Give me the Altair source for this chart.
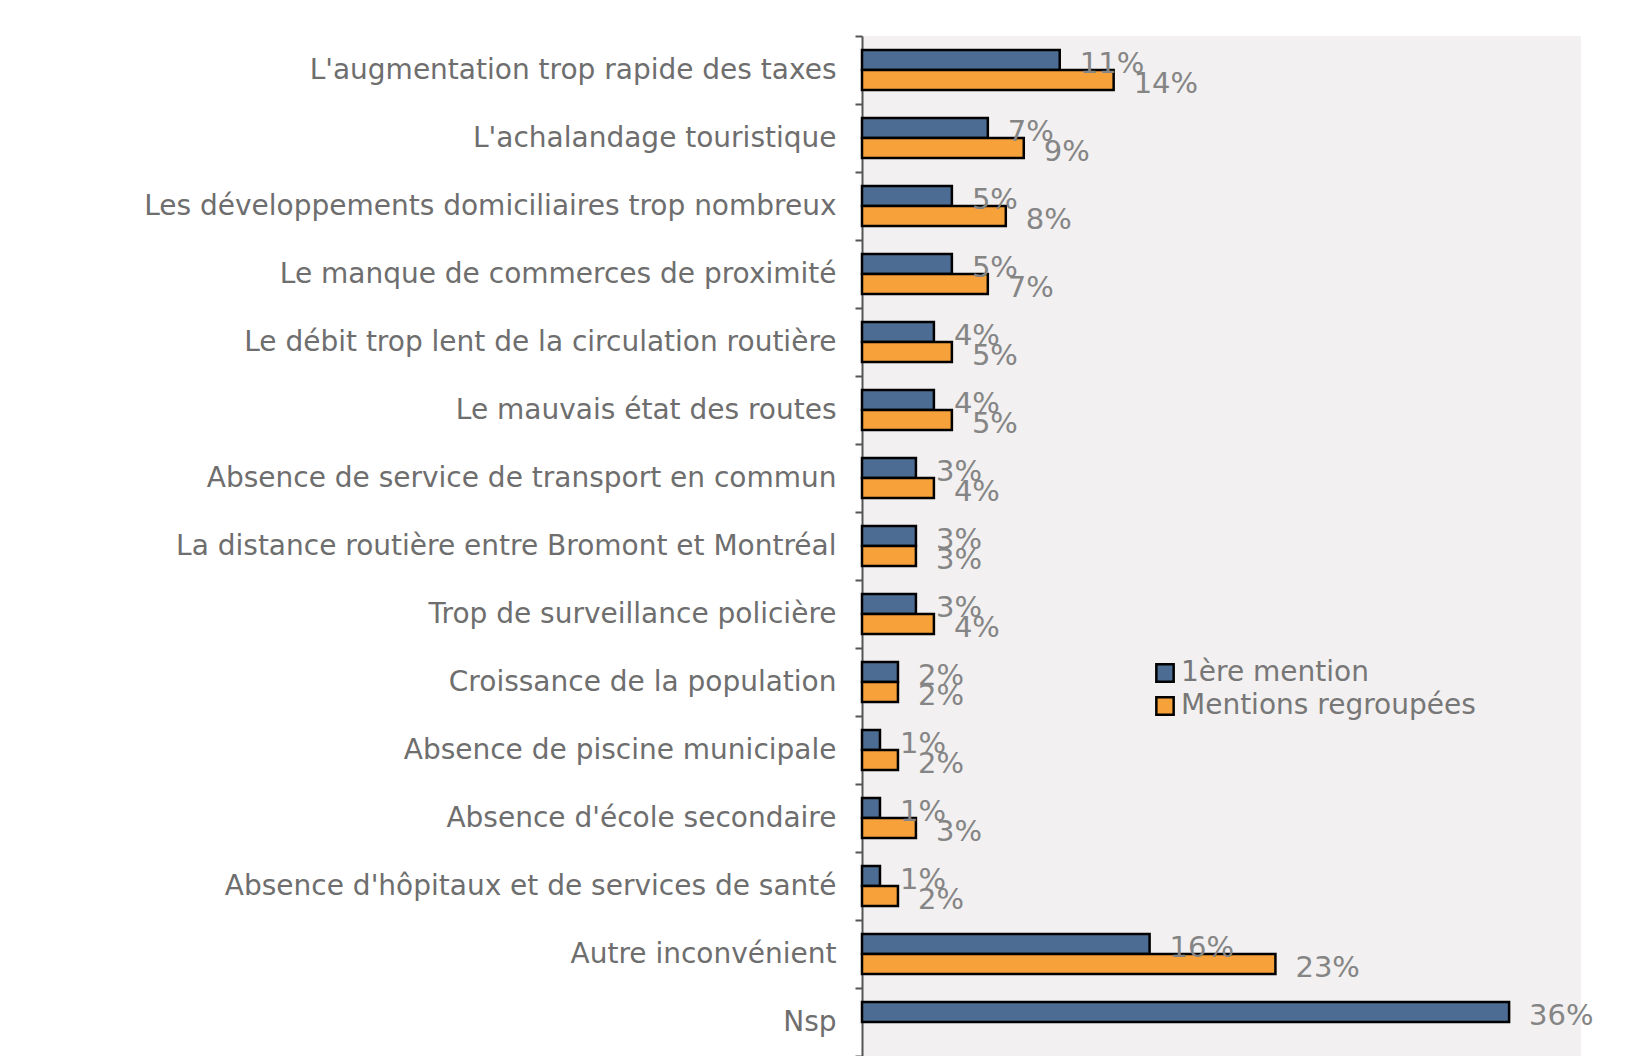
import altair as alt
import pandas as pd

categories = [
    "L'augmentation trop rapide des taxes",
    "L'achalandage touristique",
    "Les développements domiciliaires trop nombreux",
    "Le manque de commerces de proximité",
    "Le débit trop lent de la circulation routière",
    "Le mauvais état des routes",
    "Absence de service de transport en commun",
    "La distance routière entre Bromont et Montréal",
    "Trop de surveillance policière",
    "Croissance de la population",
    "Absence de piscine municipale",
    "Absence d'école secondaire",
    "Absence d'hôpitaux et de services de santé",
    "Autre inconvénient",
    "Nsp",
]
first_mention = [11, 7, 5, 5, 4, 4, 3, 3, 3, 2, 1, 1, 1, 16, 36]
grouped_mentions = [14, 9, 8, 7, 5, 5, 4, 3, 4, 2, 2, 3, 2, 23, None]
series = ["1ère mention", "Mentions regroupées"]
colors = ["#4d6c94", "#f7a13b"]

rows = []
for cat, a, b in zip(categories, first_mention, grouped_mentions):
    rows.append({"cat": cat, "serie": series[0], "val": a})
    if b is not None:
        rows.append({"cat": cat, "serie": series[1], "val": b})
df = pd.DataFrame(rows)
df["label"] = df["val"].astype(int).astype(str) + "%"

FONT = "DejaVu Sans"

y = alt.Y(
    "cat:N",
    sort=categories,
    scale=alt.Scale(paddingInner=0, paddingOuter=0),
    axis=alt.Axis(
        title=None,
        labelFont=FONT,
        labelFontSize=28,
        labelColor="#6e6e6e",
        labelPadding=19,
        labelLimit=0,
        tickBand="extent",
        tickSize=7,
        tickColor="#555555",
        tickWidth=2,
        domainColor="#555555",
        domainWidth=2,
    ),
)
yoff = alt.YOffset(
    "serie:N", sort=series, scale=alt.Scale(paddingInner=0, paddingOuter=0.7)
)
x = alt.X("val:Q", scale=alt.Scale(domain=[0, 40]), axis=None)

bars = alt.Chart(df).mark_bar(stroke="black", strokeWidth=2.5).encode(
    x=x,
    y=y,
    yOffset=yoff,
    color=alt.Color(
        "serie:N",
        scale=alt.Scale(domain=series, range=colors),
        legend=alt.Legend(
            title=None,
            orient="none",
            legendX=289,
            legendY=623,
            padding=0,
            symbolType="square",
            symbolSize=300,
            symbolStrokeColor="black",
            symbolStrokeWidth=2.5,
            symbolOpacity=1,
            labelFont=FONT,
            labelFontSize=28,
            labelColor="#777777",
            labelOffset=2,
            rowPadding=5,
            labelLimit=0,
        ),
    ),
)

text = alt.Chart(df).mark_text(
    align="left", baseline="middle", dx=20, dy=4, fontSize=29, color="#858585", font=FONT
).encode(x=x, y=y, yOffset=yoff, text="label:N")

chart = (
    (bars + text)
    .properties(
        width=719,
        height=1020,
        padding={"left": 854, "top": 28, "right": 30, "bottom": 0},
        autosize=alt.AutoSizeParams(type="none"),
        background="white",
    )
    .configure_view(fill="#f2f0f0", stroke=None)
)

chart.save("out.html", embed_options={"renderer": "svg", "actions": False})
